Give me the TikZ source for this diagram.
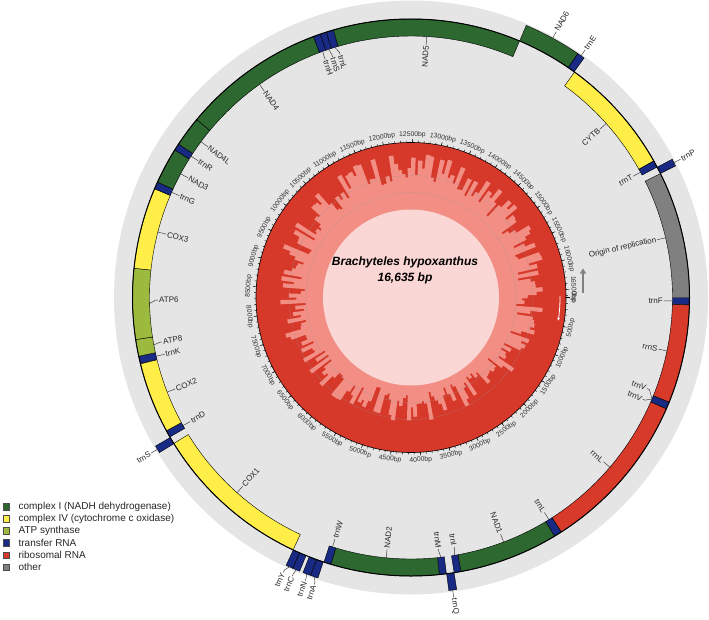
\documentclass[tikz,border=0pt]{standalone}
\usepackage{fontspec}
\setmainfont{Liberation Sans}
\usepackage{tikz}
\usetikzlibrary{positioning,arrows.meta}
\definecolor{discgray}{RGB}{229,229,229}
\definecolor{complexone}{RGB}{44,104,48}
\definecolor{complexfour}{RGB}{255,238,72}
\definecolor{atpgreen}{RGB}{156,186,62}
\definecolor{trnablue}{RGB}{24,42,132}
\definecolor{rrnared}{RGB}{216,58,42}
\definecolor{othergray}{RGB}{128,128,128}
\definecolor{gcdark}{RGB}{214,56,42}
\definecolor{gcmid}{RGB}{242,142,132}
\definecolor{gcpale}{RGB}{250,214,212}

% bp -> angle (16635 bp genome, clockwise from the right)
\newcommand{\bpang}[1]{\fpeval{round(-(#1)*360/16635,4)}}
% gene box: from bp, to bp, colour, inner radius
\newcommand{\genebox}[4]{%
  \edef\ga{\bpang{#1}}\edef\gb{\bpang{#2}}
  \pgfmathsetmacro{\gr}{#4+17}
  \filldraw[gene, fill=#3] (\ga:#4pt) arc[start angle=\ga, end angle=\gb, radius=#4pt]
    -- (\gb:\gr pt) arc[start angle=\gb, end angle=\ga, radius=\gr pt] -- cycle;
}
% label inside the ring: name, gene bp, label bp, text
\newcommand{\inlab}[4]{%
  \edef\ta{\bpang{#2}}\edef\tb{\bpang{#3}}
  \pgfmathtruncatemacro{\rs}{cos(\tb) > -0.0001}
  \ifnum\rs=1 \pgfmathsetmacro{\rot}{\tb}\def\an{east}\else\pgfmathsetmacro{\rot}{\tb+180}\def\an{west}\fi
  \node[genelabel, rotate=\rot, anchor=\an] (#1) at (\tb:253pt) {#4};
  \draw[leader] (\ta:261.5pt) -- (\tb:255.5pt) -- (#1.\an);
}
% label outside the ring
\newcommand{\outlab}[4]{%
  \edef\ta{\bpang{#2}}\edef\tb{\bpang{#3}}
  \pgfmathtruncatemacro{\rs}{cos(\tb) > -0.0001}
  \ifnum\rs=1 \pgfmathsetmacro{\rot}{\tb}\def\an{west}\else\pgfmathsetmacro{\rot}{\tb+180}\def\an{east}\fi
  \node[genelabel, rotate=\rot, anchor=\an] (#1) at (\tb:303pt) {#4};
  \draw[leader] (\ta:295.5pt) -- (\tb:300.5pt) -- (#1.\an);
}

\begin{document}
\begin{tikzpicture}[x=1pt, y=1pt,
    gene/.style={draw=black, line width=0.4pt},
    genelabel/.style={font=\fontsize{8}{9}\selectfont, inner sep=1pt, text=black!85},
    leader/.style={draw=black!80, line width=0.45pt},
    bptick/.style={draw=black, line width=0.4pt},
    ticklabel/.style={font=\fontsize{6.8}{7}\selectfont, inner sep=0.8pt, text=black!80},
    legendbox/.style={draw=black!70, line width=0.3pt, minimum size=6.5pt, inner sep=0pt},
    legendtext/.style={font=\fontsize{10}{11}\selectfont, inner sep=0pt, text=black!85},
    speciesname/.style={font=\fontsize{12}{14}\selectfont\bfseries\itshape, inner sep=0pt}
  ]
\useasboundingbox (-411,-321.5) rectangle (298,297.5);

\fill[discgray] (0,0) circle[radius=297pt];

% GC content
\fill[gcdark] (0,0) circle[radius=155pt];
\pgfmathsetseed{42}
\foreach \i in {0,...,239} {
  \pgfmathsetmacro{\a}{-\i*1.5}
  \pgfmathsetmacro{\b}{\a-1.9}
  \pgfmathsetmacro{\h}{104+10*sin(\a)+30*rnd}
  \fill[gcmid] (0,0) -- (\a:\h pt) arc[start angle=\a, end angle=\b, radius=\h pt] -- cycle;
}
\draw[black!40, opacity=0.5, line width=0.3pt] (0,0) circle[radius=105pt] (0,0) circle[radius=122pt];
\fill[gcpale] (0,0) circle[radius=88pt];

% bp scale
\draw[bptick, line width=0.6pt] (0,0) circle[radius=155pt];
\foreach \k in {0,...,166} {
  \edef\q{\bpang{\k*100}}
  \draw[bptick] (\q:155pt) -- (\q:157pt);
}
\foreach \k in {0,...,33} {
  \edef\p{\the\numexpr\k*500\relax}
  \edef\q{\bpang{\p}}
  \draw[bptick] (\q:155pt) -- (\q:158.5pt);
  \pgfmathtruncatemacro{\up}{sin(\q) > -0.001}
  \ifnum\up=1 \pgfmathsetmacro{\rot}{\q-90}\def\an{south}\else\pgfmathsetmacro{\rot}{\q+90}\def\an{north}\fi
  \node[ticklabel, rotate=\rot, anchor=\an] (t\k) at (\q:158.5pt) {\p bp};
}
\draw[white, line width=0.8pt, -{Latex[length=3pt, width=3pt]}] (0.5:149pt) arc[start angle=0.5, end angle=-9, radius=149pt];
\coordinate (dirtail) at (172,5);
\coordinate (dirhead) at (172,29);
\draw[othergray, line width=2.2pt, -{Triangle[length=5pt, width=6pt]}] (dirtail) -- (dirhead);

% genes inside the circle
\genebox{0}{70}{trnablue}{261.5}
\genebox{71}{1020}{rrnared}{261.5}
\genebox{1021}{1088}{trnablue}{261.5}
\genebox{1089}{2650}{rrnared}{261.5}
\genebox{2651}{2725}{trnablue}{261.5}
\genebox{2726}{3681}{complexone}{261.5}
\genebox{3682}{3747}{trnablue}{261.5}
\genebox{3821}{3889}{trnablue}{261.5}
\genebox{3890}{4931}{complexone}{261.5}
\genebox{4932}{5000}{trnablue}{261.5}
\genebox{5316}{6857}{complexfour}{261.5}
\genebox{6929}{6996}{trnablue}{261.5}
\genebox{6997}{7680}{complexfour}{261.5}
\genebox{7684}{7753}{trnablue}{261.5}
\genebox{7755}{7916}{atpgreen}{261.5}
\genebox{7916}{8596}{atpgreen}{261.5}
\genebox{8596}{9379}{complexfour}{261.5}
\genebox{9380}{9448}{trnablue}{261.5}
\genebox{9449}{9794}{complexone}{261.5}
\genebox{9797}{9861}{trnablue}{261.5}
\genebox{9862}{10152}{complexone}{261.5}
\genebox{10152}{11529}{complexone}{261.5}
\genebox{11530}{11598}{trnablue}{261.5}
\genebox{11599}{11657}{trnablue}{261.5}
\genebox{11658}{11728}{trnablue}{261.5}
\genebox{11729}{13536}{complexone}{261.5}
\genebox{14138}{15278}{complexfour}{261.5}
\genebox{15279}{15345}{trnablue}{261.5}
\genebox{15414}{16635}{othergray}{261.5}
% genes outside the circle
\genebox{13537}{14064}{complexone}{278.5}
\genebox{14065}{14133}{trnablue}{278.5}
\genebox{15346}{15413}{trnablue}{278.5}
\genebox{3748}{3819}{trnablue}{278.5}
\genebox{5007}{5075}{trnablue}{278.5}
\genebox{5077}{5149}{trnablue}{278.5}
\genebox{5182}{5248}{trnablue}{278.5}
\genebox{5249}{5314}{trnablue}{278.5}
\genebox{6855}{6923}{trnablue}{278.5}

\draw[black, line width=1pt] (0,0) circle[radius=278.5pt];

% labels
\inlab{trnF}{35}{35}{trnF}
\inlab{rrnS}{545}{545}{rrnS}
\inlab{trnVa}{1055}{975}{trnV}
\inlab{trnVb}{1055}{1095}{trnV}
\inlab{rrnL}{1870}{1870}{rrnL}
\inlab{trnLb}{2688}{2688}{trnL}
\inlab{nad1}{3200}{3200}{NAD1}
\inlab{trnI}{3716}{3705}{trnI}
\inlab{trnM}{3855}{3870}{trnM}
\inlab{nad2}{4410}{4410}{NAD2}
\inlab{trnW}{4966}{4966}{trnW}
\inlab{cox1}{6086}{6086}{COX1}
\inlab{trnD}{6962}{6962}{trnD}
\inlab{cox2}{7338}{7338}{COX2}
\inlab{trnK}{7718}{7718}{trnK}
\inlab{atp8}{7835}{7850}{ATP8}
\inlab{atp6}{8256}{8290}{ATP6}
\inlab{cox3}{8988}{8988}{COX3}
\inlab{trnG}{9414}{9414}{trnG}
\inlab{nad3}{9622}{9622}{NAD3}
\inlab{trnR}{9829}{9829}{trnR}
\inlab{nad4l}{10007}{10007}{NAD4L}
\inlab{nad4}{10840}{10840}{NAD4}
\inlab{trnH}{11564}{11560}{trnH}
\inlab{trnSb}{11628}{11642}{trnS}
\inlab{trnLa}{11693}{11725}{trnL}
\inlab{nad5}{12635}{12635}{NAD5}
\inlab{cytb}{14708}{14708}{CYTB}
\inlab{trnT}{15312}{15312}{trnT}
\inlab{origin}{16025}{16025}{Origin of replication}
\outlab{nad6}{13800}{13800}{NAD6}
\outlab{trnE}{14099}{14099}{trnE}
\outlab{trnP}{15380}{15380}{trnP}
\outlab{trnQ}{3784}{3784}{trnQ}
\outlab{trnA}{5041}{5020}{trnA}
\outlab{trnN}{5113}{5105}{trnN}
\outlab{trnC}{5215}{5225}{trnC}
\outlab{trnY}{5281}{5310}{trnY}
\outlab{trnSa}{6889}{6889}{trnS}

\node[speciesname] (species) at (-6,35.5) {Brachyteles hypoxanthus};
\node[speciesname, below=5pt of species] (length) {16,635 bp};

% legend
\foreach \c/\t [count=\k] in {complexone/complex I (NADH dehydrogenase),
    complexfour/complex IV (cytochrome c oxidase), atpgreen/ATP synthase,
    trnablue/transfer RNA, rrnared/ribosomal RNA, othergray/other} {
  \node[legendbox, fill=\c] (lb\k) at (-405,-209-12.1*\k+12.1) {};
  \node[legendtext, right=9pt of lb\k] (lt\k) {\t};
}
\end{tikzpicture}
\end{document}
